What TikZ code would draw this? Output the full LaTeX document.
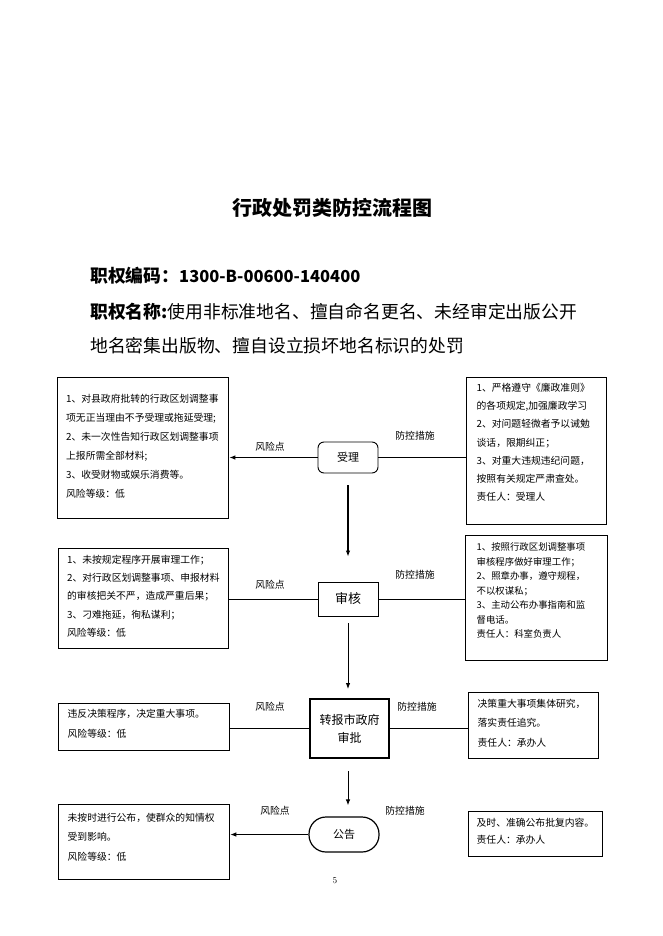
\documentclass[tikz,border=0pt]{standalone}
\usepackage{fontspec}
\usepackage{tikz}
\usetikzlibrary{arrows.meta}
\newfontfamily\cjk{Noto Sans CJK SC}
% box text: width, height, font size, line skip, lines
\newcommand{\boxtext}[5]{\parbox[c][#2][t]{#1}{\fontsize{#3}{#4}\selectfont\raggedright #5}}

\begin{document}
\begin{tikzpicture}[x=1pt,y=-1pt,
  box/.style={rectangle, draw, line width=1.3pt, anchor=north west, font=\cjk},
  stage/.style={rectangle, draw, line width=0.9pt, inner sep=0pt, align=center},
  tag/.style={font=\cjk\fontsize{9.8}{12}\selectfont, inner sep=0pt},
  head/.style={anchor=west, inner sep=0pt, font=\cjk\fontsize{17.8}{20}\selectfont},
  flow/.style={line width=0.9pt, -{Latex[length=6pt,width=4.5pt]}}]
\useasboundingbox (0,0) rectangle (662,936);

% heading
\node[font=\cjk\bfseries\fontsize{20}{24}\selectfont] (title) at (332,208) {行政处罚类防控流程图};
\node[head] (code) at (90,276) {\bfseries 职权编码：{\fontsize{16.5}{20}\selectfont 1300-B-00600-140400}};
\node[head] (name1) at (90,312) {{\bfseries 职权名称:}使用非标准地名、擅自命名更名、未经审定出版公开};
\node[head] (name2) at (90,346) {地名密集出版物、擅自设立损坏地名标识的处罚};

% stages
\node[stage, rounded corners=6pt, minimum width=60pt, minimum height=31pt,
      font=\cjk\fontsize{11}{13}\selectfont] (shouli) at (348,457.5) {受理};
\node[stage, minimum width=60pt, minimum height=34pt,
      font=\cjk\fontsize{13}{15}\selectfont] (shenhe) at (348,599) {审核};
\node[stage, line width=2pt, minimum width=79pt, minimum height=59pt,
      font=\cjk\fontsize{12}{18}\selectfont] (zhuanbao) at (349.5,728.5) {转报市政府\\审批};
\node[stage, rounded corners=17pt, line width=1.2pt, minimum width=70pt, minimum height=35pt,
      font=\cjk\fontsize{11}{13}\selectfont] (gonggao) at (344,834.5) {公告};

% risk boxes
\node[box, inner xsep=8.5pt, inner ysep=16.25pt] (riskA) at (57,377)
  {\boxtext{154pt}{108.5pt}{9.8}{19}{1、对县政府批转的行政区划调整事\\项无正当理由不予受理或拖延受理;\\2、未一次性告知行政区划调整事项\\上报所需全部材料;\\3、收受财物或娱乐消费等。\\风险等级：低}};
\node[box, inner xsep=8.5pt, inner ysep=6.25pt] (riskB) at (58,548)
  {\boxtext{153pt}{87.5pt}{9.8}{18.3}{1、未按规定程序开展审理工作；\\2、对行政区划调整事项、申报材料\\的审核把关不严，造成严重后果；\\3、刁难拖延，徇私谋利；\\风险等级：低}};
\node[box, inner xsep=9pt, inner ysep=5.25pt] (riskC) at (58,703)
  {\boxtext{153pt}{36.5pt}{9.8}{20}{违反决策程序，决定重大事项。\\风险等级：低}};
\node[box, inner xsep=9pt, inner ysep=8.25pt] (riskD) at (58,804)
  {\boxtext{153pt}{58.5pt}{9.8}{19.5}{未按时进行公布，使群众的知情权\\受到影响。\\风险等级：低}};

% control boxes
\node[box, inner xsep=10pt, inner ysep=5.25pt] (ctrlA) at (466,377)
  {\boxtext{120pt}{136.5pt}{9.8}{18.3}{1、严格遵守《廉政准则》\\的各项规定,加强廉政学习\\2、对问题轻微者予以诫勉\\谈话，限期纠正；\\3、对重大违规违纪问题，\\按照有关规定严肃查处。\\责任人：受理人}};
\node[box, inner xsep=11pt, inner ysep=7.25pt] (ctrlB) at (465,535)
  {\boxtext{120pt}{110.5pt}{9.4}{14.5}{1、按照行政区划调整事项\\审核程序做好审理工作；\\2、照章办事，遵守规程，\\不以权谋私；\\3、主动公布办事指南和监\\督电话。\\责任人：科室负责人}};
\node[box, inner xsep=9pt, inner ysep=6.25pt] (ctrlC) at (468,692)
  {\boxtext{112pt}{53.5pt}{9.8}{19.5}{决策重大事项集体研究，\\落实责任追究。\\责任人：承办人}};
\node[box, inner xsep=8pt, inner ysep=6.25pt] (ctrlD) at (468,811)
  {\boxtext{118pt}{32.5pt}{9.8}{17.5}{及时、准确公布批复内容。\\责任人：承办人}};

% labels
\node[tag] (riskA-tag) at (270,447) {风险点};
\node[tag] (ctrlA-tag) at (415,436) {防控措施};
\node[tag] (riskB-tag) at (270,585) {风险点};
\node[tag] (ctrlB-tag) at (415,575) {防控措施};
\node[tag] (riskC-tag) at (270,707) {风险点};
\node[tag] (ctrlC-tag) at (417,707) {防控措施};
\node[tag] (riskD-tag) at (275,811) {风险点};
\node[tag] (ctrlD-tag) at (405,811) {防控措施};

\node[font=\fontsize{9}{11}\selectfont, inner sep=0pt] (pageno) at (335,881) {5};

% connectors
\draw[flow, line width=1.8pt] (shouli.west) -- (shouli.west -| riskA.east);
\draw[flow] (shouli.east) -- (shouli.east -| ctrlA.west)
            (shenhe.west) -- (shenhe.west -| riskB.east)
            (shenhe.east) -- (shenhe.east -| ctrlB.west)
            (zhuanbao.west) -- (zhuanbao.west -| riskC.east)
            (zhuanbao.east) -- (zhuanbao.east -| ctrlC.west)
            (gonggao.west) -- (gonggao.west -| riskD.east);
\draw[flow, line width=1.1pt, shorten <=12pt, shorten >=25pt] (shouli.south) -- (shenhe.north);
\draw[flow, shorten <=7pt, shorten >=9pt] (shenhe.south) -- (shenhe.south |- zhuanbao.north);
\draw[flow, shorten <=12pt, shorten >=11pt] (shenhe.south |- zhuanbao.south) -- (shenhe.south |- gonggao.north);
\end{tikzpicture}
\end{document}
